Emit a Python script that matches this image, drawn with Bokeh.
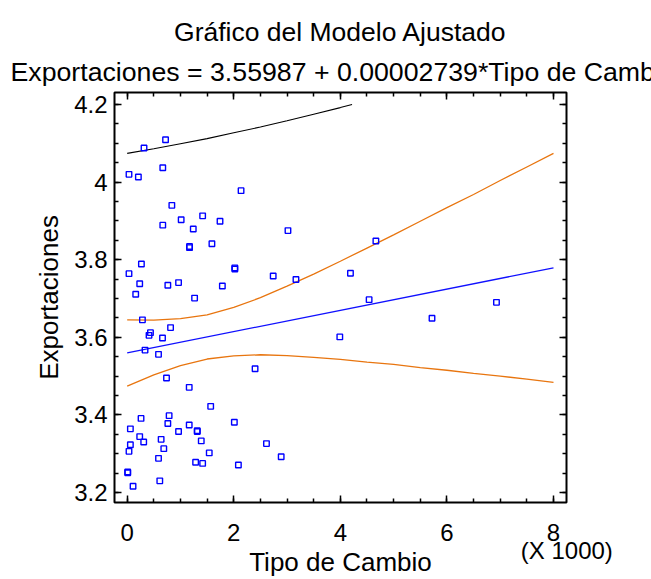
from bokeh.plotting import figure
from bokeh.models import Range1d, LinearAxis, FixedTicker, Title, CustomJSTickFormatter
from bokeh.embed import file_html
from bokeh.resources import INLINE

# ---------------- data ----------------
tipo_cambio = [316, 720, 34, 210, 668, 2137, 838, 1013, 1416, 668, 1240, 1742,
               1170, 1170, 1590, 267, 34, 2020, 2020, 235, 763, 964, 1786, 160,
               1265, 286, 437, 410, 814, 663, 335, 588, 2400, 738, 1164, 1567,
               260, 787, 763, 2011, 60, 1164, 964, 1315, 1315, 235, 310, 60,
               637, 1390, 34, 687, 1540, 588, 1284, 1416, 2087, 10, 10, 612,
               110, 3017, 4667, 2740, 3167, 4190, 4540, 3990, 2614, 2890, 5720, 6930]
exportaciones = [4.088, 4.109, 4.020, 4.013, 4.037, 3.978, 3.940, 3.903, 3.913, 3.889, 3.879, 3.899,
                 3.834, 3.831, 3.841, 3.789, 3.764, 3.779, 3.776, 3.738, 3.734, 3.741, 3.732, 3.711,
                 3.701, 3.645, 3.612, 3.605, 3.625, 3.598, 3.567, 3.556, 3.519, 3.495, 3.471, 3.422,
                 3.391, 3.398, 3.378, 3.381, 3.364, 3.374, 3.357, 3.359, 3.357, 3.344, 3.330, 3.323,
                 3.337, 3.333, 3.306, 3.313, 3.302, 3.288, 3.278, 3.275, 3.271, 3.253, 3.251, 3.230,
                 3.216, 3.875, 3.848, 3.758, 3.749, 3.765, 3.697, 3.601, 3.326, 3.292, 3.649, 3.690]

fit_x = [0, 8000]
fit_y = [3.5599, 3.7790]

band_x = [0, 500, 1000, 1500, 2000, 2500, 3000, 3500, 4000, 4500, 5000, 5500,
          6000, 6500, 7000, 7500, 8000]
band_upper = [3.645, 3.644, 3.648, 3.658, 3.677, 3.702, 3.732, 3.763, 3.796, 3.830,
              3.864, 3.899, 3.934, 3.968, 4.004, 4.039, 4.074]
band_lower = [3.474, 3.503, 3.527, 3.544, 3.552, 3.555, 3.553, 3.548, 3.543, 3.536,
              3.530, 3.522, 3.515, 3.507, 3.500, 3.492, 3.484]

pred_x = [0, 500, 1000, 1500, 2000, 2500, 3000, 3500, 4000, 4220]
pred_upper = [4.074, 4.086, 4.099, 4.112, 4.127, 4.142, 4.158, 4.175, 4.192, 4.200]

x_ticks = [0, 2000, 4000, 6000, 8000]
x_tick_labels = ["0", "2", "4", "6", "8"]
y_ticks = [3.2, 3.4, 3.6, 3.8, 4.0, 4.2]
y_tick_labels = ["3.2", "3.4", "3.6", "3.8", "4", "4.2"]

title_text = "Gráfico del Modelo Ajustado"
subtitle_text = "Exportaciones = 3.55987 + 0.00002739*Tipo de Cambio"
x_label = "Tipo de Cambio"
x_scale_note = "(X 1000)"
y_label = "Exportaciones"

# ---------------- styling ----------------
FONT = "Liberation Sans"
ORANGE = "#E8750F"
BLUE = "#1010FF"

p = figure(width=651, height=579,
           x_range=Range1d(-238, 8244), y_range=Range1d(3.1742, 4.2309),
           output_backend="svg", toolbar_location=None,
           x_axis_location=None, y_axis_location=None,
           min_border_left=114, min_border_right=85,
           min_border_top=92, min_border_bottom=77,
           background_fill_color="white", border_fill_color="white")
p.grid.grid_line_color = None
p.outline_line_color = "black"
p.outline_line_width = 2
p.outline_line_alpha = 1

xt = FixedTicker(ticks=x_ticks, minor_ticks=list(range(0, 8001, 500)))
yt = FixedTicker(ticks=y_ticks, minor_ticks=[round(3.15 + 0.05 * i, 2) for i in range(23)])


def style(ax):
    ax.axis_line_color = None
    ax.major_tick_in = 7
    ax.major_tick_out = 0
    ax.minor_tick_in = 4
    ax.minor_tick_out = 0
    ax.major_tick_line_color = "black"
    ax.minor_tick_line_color = "black"
    ax.major_tick_line_width = 1.5
    ax.minor_tick_line_width = 1.5
    ax.major_label_text_font = FONT
    ax.major_label_text_font_size = "24px"
    ax.major_label_text_color = "black"
    ax.axis_label_text_font = FONT
    ax.axis_label_text_font_size = "26px"
    ax.axis_label_text_font_style = "normal"
    ax.axis_label_text_color = "black"


x_overrides = dict(zip(x_ticks, x_tick_labels))
x_overrides[x_ticks[-1]] = x_tick_labels[-1] + "\n" + "\u00a0" * 4 + x_scale_note

bottom = LinearAxis(ticker=xt, major_label_overrides=x_overrides, axis_label=x_label)
style(bottom)
bottom.major_label_standoff = 16
bottom.major_label_text_line_height = 0.68
bottom.axis_label_standoff = -20
p.add_layout(bottom, "below")

top = LinearAxis(ticker=xt, formatter=CustomJSTickFormatter(code="return ''"))
style(top)
top.major_label_standoff = 0
top.major_label_text_font_size = "1px"
p.add_layout(top, "above")

left = LinearAxis(ticker=yt, major_label_overrides=dict(zip(y_ticks, y_tick_labels)),
                  axis_label=y_label)
style(left)
left.major_label_standoff = 7
left.axis_label_standoff = 7
p.add_layout(left, "left")

right = LinearAxis(ticker=yt, formatter=CustomJSTickFormatter(code="return ''"))
style(right)
right.major_label_standoff = 0
right.major_label_text_font_size = "1px"
p.add_layout(right, "right")

# titles: subtitle first (closest to the frame), then main title above it
p.add_layout(Title(text=subtitle_text, align="left", offset=-104, standoff=11,
                   text_font=FONT, text_font_size="26.7px", text_font_style="normal",
                   text_color="black"), "above")
p.add_layout(Title(text=title_text, align="center", standoff=5,
                   text_font=FONT, text_font_size="26.5px", text_font_style="normal",
                   text_color="black"), "above")

# ---------------- glyphs ----------------
p.line(band_x, band_upper, line_color=ORANGE, line_width=1.3)
p.line(band_x, band_lower, line_color=ORANGE, line_width=1.3)
p.line(fit_x, fit_y, line_color=BLUE, line_width=1.3)
p.line(pred_x, pred_upper, line_color="black", line_width=1.1)
p.scatter(tipo_cambio, exportaciones, marker="square", size=5.5,
          fill_color=None, line_color="#0000FF", line_width=1.4)

open("out.html", "w").write(file_html(p, INLINE))
